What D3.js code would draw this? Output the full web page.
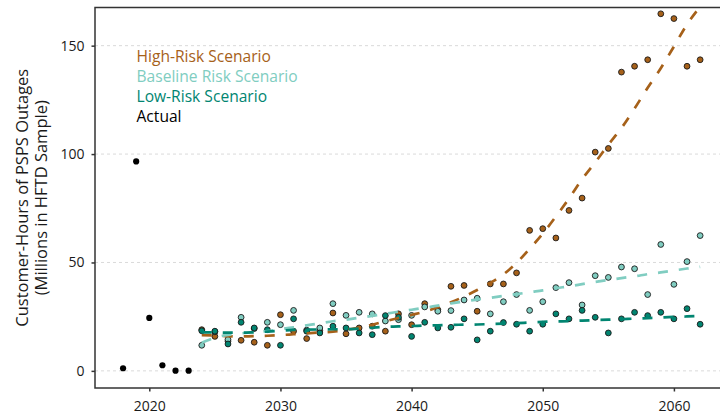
<!DOCTYPE html>
<html>
<head>
<meta charset="utf-8">
<script src="https://cdn.jsdelivr.net/npm/d3@7"></script>
<style>
  html, body { margin: 0; padding: 0; background: #fff; }
  svg { display: block; font-family: "Open Sans", "Noto Sans", sans-serif; }
</style>
</head>
<body>
<svg id="chart" width="720" height="417"></svg>
<script>
// Observed PSPS customer-hours (millions, HFTD sample)
const actualYears = [2018, 2019, 2020, 2021, 2022, 2023];
const actualValues = [1.2, 96.6, 24.4, 2.6, 0.1, 0.1];

// Simulated annual outcomes per scenario, 2024–2062
const scenarioYears = d3.range(2024, 2063);
const highValues = [19.0, 15.9, 13.7, 14.1, 13.2, 11.8, 25.9, 18.3, 14.9, 18.5,
  26.7, 17.1, 19.8, 20.6, 18.3, 26.3, 21.3, 31.0, 28.2, 39.0,
  39.4, 27.5, 40.1, 40.1, 45.2, 64.8, 65.6, 61.3, 74.0, 79.7,
  100.9, 102.6, 137.8, 140.5, 143.5, 164.7, 162.5, 140.5, 143.5];
const baselineValues = [11.8, 18.0, 14.5, 24.7, 19.5, 22.4, 21.3, 27.9, 18.8, 19.8,
  31.0, 25.6, 27.0, 26.3, 23.0, 23.6, 25.6, 29.5, 27.5, 27.8,
  32.7, 33.5, 26.3, 31.9, 35.2, 27.9, 31.9, 38.4, 40.7, 30.4,
  43.9, 43.1, 47.9, 47.1, 35.2, 58.3, 39.9, 50.4, 62.4];
const lowValues = [18.5, 18.3, 12.4, 22.4, 19.8, 19.0, 11.8, 24.0, 18.3, 17.5,
  20.6, 19.8, 17.5, 16.7, 25.5, 24.7, 15.9, 22.4, 19.8, 20.1,
  24.0, 14.3, 18.3, 22.3, 21.5, 18.3, 21.5, 26.3, 24.0, 27.9,
  24.7, 17.5, 24.0, 27.0, 25.5, 27.0, 24.0, 28.7, 21.5];

// Smoothed trend per scenario, same years
const highTrend = [16.5, 16.3, 16.0, 15.9, 16.0, 16.2, 16.5, 16.9, 17.3, 17.7,
  18.1, 18.9, 19.9, 21.3, 22.9, 24.4, 25.8, 27.3, 29.3, 31.6,
  34.3, 37.3, 40.6, 44.5, 49.8, 56.3, 63.3, 71.2, 79.5, 88.4,
  96.2, 104.3, 112.0, 121.0, 130.6, 139.6, 149.6, 159.8, 168.0];
const baselineTrend = [13.0, 15.3, 16.6, 17.3, 17.9, 18.4, 19.2, 20.1, 21.0, 21.9,
  22.9, 23.6, 24.5, 25.4, 26.3, 27.3, 28.2, 29.1, 30.1, 31.1,
  32.0, 32.9, 33.7, 34.6, 35.4, 36.3, 37.1, 38.1, 39.0, 40.0,
  41.0, 41.9, 42.8, 43.6, 44.6, 45.4, 46.3, 47.2, 48.0];
const lowTrend = [17.8, 17.7, 17.6, 17.6, 17.8, 18.1, 18.5, 18.9, 19.0, 19.1,
  19.2, 19.2, 19.5, 19.9, 20.3, 20.5, 20.7, 20.9, 21.0, 21.2,
  21.3, 21.4, 21.6, 21.8, 22.0, 22.3, 22.6, 22.8, 22.9, 23.2,
  23.4, 23.6, 23.8, 24.1, 24.3, 24.6, 24.9, 25.1, 25.3];

const xTicks = [2020, 2030, 2040, 2050, 2060];
const yTicks = [0, 50, 100, 150];

const scenarios = [
  { name: "High-Risk Scenario", color: "#A6611A", values: highValues, trend: highTrend },
  { name: "Baseline Risk Scenario", color: "#80CDC1", values: baselineValues, trend: baselineTrend },
  { name: "Low-Risk Scenario", color: "#018571", values: lowValues, trend: lowTrend }
];

const svg = d3.select("#chart");
const panel = { left: 95, top: 7.5, right: 729, bottom: 388 };

const x = d3.scaleLinear().domain([2015.86, 2064.2]).range([panel.left, panel.right]);
const y = d3.scaleLinear().domain([-7.9, 167.6]).range([panel.bottom, panel.top]);

svg.append("defs").append("clipPath").attr("id", "clip")
  .append("rect")
  .attr("x", panel.left).attr("y", panel.top)
  .attr("width", panel.right - panel.left).attr("height", panel.bottom - panel.top);

// horizontal dashed grid
svg.append("g").selectAll("line").data(yTicks).join("line")
  .attr("x1", panel.left).attr("x2", panel.right)
  .attr("y1", d => y(d)).attr("y2", d => y(d))
  .attr("stroke", "#dadada").attr("stroke-width", 1)
  .attr("stroke-dasharray", "3,3");

const plot = svg.append("g").attr("clip-path", "url(#clip)");

// scenario points
scenarios.forEach(s => {
  plot.append("g").selectAll("circle").data(scenarioYears).join("circle")
    .attr("cx", (d) => x(d))
    .attr("cy", (d, i) => y(s.values[i]))
    .attr("r", 2.9)
    .attr("fill", s.color)
    .attr("stroke", "#1a1a1a")
    .attr("stroke-width", 0.9);
});

// actual points
plot.append("g").selectAll("circle").data(actualYears).join("circle")
  .attr("cx", d => x(d))
  .attr("cy", (d, i) => y(actualValues[i]))
  .attr("r", 3.1)
  .attr("fill", "#000");

// dashed trend lines
const line = d3.line()
  .x((d, i) => x(scenarioYears[i]))
  .y(d => y(d))
  .curve(d3.curveMonotoneX);

scenarios.forEach(s => {
  plot.append("path")
    .attr("d", line(s.trend))
    .attr("fill", "none")
    .attr("stroke", s.color)
    .attr("stroke-width", 2.7)
    .attr("stroke-dasharray", "10,11");
});

// panel border
svg.append("rect")
  .attr("x", panel.left).attr("y", panel.top)
  .attr("width", panel.right - panel.left).attr("height", panel.bottom - panel.top)
  .attr("fill", "none").attr("stroke", "#333").attr("stroke-width", 1.5);

// axes
const xAxis = svg.append("g")
  .attr("transform", `translate(0,${panel.bottom})`)
  .call(d3.axisBottom(x).tickValues(xTicks).tickFormat(d3.format("d")).tickSize(3.5).tickPadding(10));
const yAxis = svg.append("g")
  .attr("transform", `translate(${panel.left},0)`)
  .call(d3.axisLeft(y).tickValues(yTicks).tickSize(3.5).tickPadding(7));

[xAxis, yAxis].forEach(a => {
  a.select(".domain").remove();
  a.selectAll(".tick line").attr("stroke", "#333").attr("stroke-width", 1.5);
  a.selectAll(".tick text").attr("fill", "#1a1a1a")
    .style("font-size", "14px").style("font-family", "'Open Sans', sans-serif");
});

// y-axis title
const yTitle = svg.append("text")
  .attr("transform", `translate(0,${(panel.top + panel.bottom) / 2}) rotate(-90)`)
  .attr("text-anchor", "middle")
  .attr("fill", "#1a1a1a")
  .style("font-size", "16.5px");
yTitle.append("tspan").attr("x", 0).attr("y", 28).text("Customer-Hours of PSPS Outages");
yTitle.append("tspan").attr("x", 0).attr("y", 47).text("(Millions in HFTD Sample)");

// legend
const legendItems = scenarios.map(s => ({ name: s.name, color: s.color }))
  .concat([{ name: "Actual", color: "#000" }]);
svg.append("g").selectAll("text").data(legendItems).join("text")
  .attr("x", 136.5)
  .attr("y", (d, i) => 62 + i * 20)
  .attr("fill", d => d.color)
  .style("font-size", "15.6px")
  .text(d => d.name);
</script>
</body>
</html>
